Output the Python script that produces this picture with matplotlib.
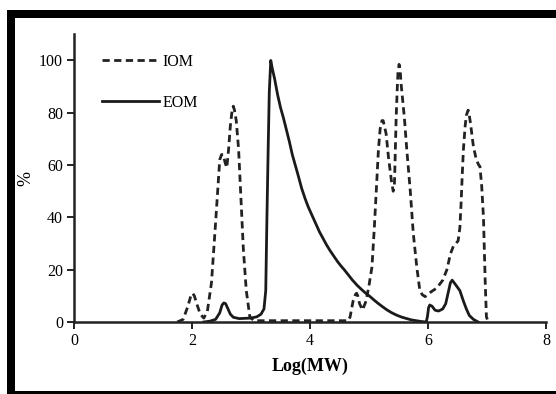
import matplotlib
matplotlib.use("Agg")
import matplotlib.pyplot as plt
from matplotlib.patches import Rectangle

# ---- data ----
iom_x = [1.75, 1.85, 1.93, 1.98, 2.01, 2.04, 2.08, 2.14, 2.20, 2.26, 2.33, 2.40, 2.47,
         2.50, 2.53, 2.56, 2.59, 2.62, 2.65, 2.68, 2.70, 2.72, 2.75, 2.79, 2.83, 2.87,
         2.92, 2.98, 3.05, 4.65, 4.68, 4.73, 4.77, 4.79, 4.81, 4.84, 4.89, 4.95, 5.00,
         5.05, 5.09, 5.13, 5.16, 5.19, 5.22, 5.24, 5.27, 5.29, 5.33, 5.38, 5.41, 5.43,
         5.44, 5.46, 5.48, 5.49, 5.51, 5.53, 5.54, 5.57, 5.60, 5.64, 5.70, 5.75, 5.81,
         5.86, 5.90, 5.95, 6.00, 6.05, 6.15, 6.25, 6.32, 6.38, 6.43, 6.47, 6.51, 6.54,
         6.56, 6.58, 6.60, 6.63, 6.65, 6.68, 6.70, 6.72, 6.77, 6.82, 6.86, 6.88, 6.91,
         6.94, 6.97, 6.99, 7.02]
iom_y = [0, 1, 6, 10, 11, 10, 7, 3, 1.5, 4, 15, 38, 62,
         64, 64, 61, 59, 66, 75, 81, 82.5, 81, 77, 66, 47, 28,
         12, 2, 0.5, 0.5, 2, 8, 10.5, 11, 10, 7, 4.6, 8, 14,
         21, 36, 53, 66, 74, 77, 77, 74, 72, 63, 54, 50, 52,
         60, 78, 90, 95, 98.5, 96, 92, 85, 78, 66, 50, 34, 21,
         12.3, 10.5, 9.7, 10.5, 11.5, 13, 16, 20, 26, 29, 30, 31, 36,
         45, 56, 66, 75, 79, 81, 79, 76, 67, 62, 60, 59.5, 52,
         40, 15, 2, 0]

eom_x = [2.20, 2.30, 2.40, 2.47, 2.51, 2.54, 2.57, 2.60, 2.65, 2.70, 2.80, 3.00, 3.10,
         3.17, 3.22, 3.25, 3.27, 3.29, 3.31, 3.335, 3.36, 3.40, 3.45, 3.50, 3.55, 3.60,
         3.65, 3.70, 3.75, 3.80, 3.86, 3.92, 3.97, 4.03, 4.10, 4.16, 4.22, 4.28, 4.34,
         4.40, 4.47, 4.53, 4.58, 4.65, 4.72, 4.80, 4.88, 4.95, 5.02, 5.08, 5.15, 5.22,
         5.30, 5.38, 5.46, 5.55, 5.64, 5.72, 5.80, 5.88, 5.97, 5.99, 6.01, 6.03, 6.07,
         6.12, 6.18, 6.25, 6.30, 6.34, 6.38, 6.41, 6.46, 6.54, 6.60, 6.65, 6.70, 6.77,
         6.85]
eom_y = [0, 0.3, 1, 3.5, 6.5, 7.3, 7, 5.5, 3, 1.8, 1.3, 1.5, 2,
         3, 5, 12, 40, 65, 88, 100, 97, 93, 87, 82, 78, 73.5,
         69, 64, 60, 56, 51, 47, 44, 41, 37.5, 34.5, 32, 29.5, 27.3,
         25.3, 23, 21.3, 20, 18, 16, 14, 12.3, 10.9, 9.7, 8.5, 7.2, 6.0,
         4.7, 3.6, 2.7, 1.9, 1.3, 0.8, 0.5, 0.2, 0, 2, 5.5, 6.5, 6,
         4.5, 4.2, 5, 7, 11, 15, 16, 14.5, 12, 8, 5, 2.5, 1,
         0]

x_ticks = [0, 2, 4, 6, 8]
y_ticks = [0, 20, 40, 60, 80, 100]
series_labels = ["IOM", "EOM"]

# ---- figure ----
W, H = 556, 394
fig = plt.figure(figsize=(W / 100, H / 100), dpi=100)
fig.patch.set_facecolor("white")

def px_rect(x0, y0, x1, y1):
    return Rectangle((x0 / W, 1 - y1 / H), (x1 - x0) / W, (y1 - y0) / H,
                     transform=fig.transFigure, facecolor="black",
                     edgecolor="none", zorder=0)

fig.patches.extend([
    px_rect(7, 10, W, 18),     # top band
    px_rect(7, 10, 15, H),     # left band
    px_rect(7, 391, W, H),     # bottom band
])

left, right = 74 / W, 546 / W
bottom = (H - 322) / H
top = (H - 34.3) / H
ax = fig.add_axes([left, bottom, right - left, top - bottom])
ax.set_facecolor("none")

serif = "Liberation Serif"
lw = 2.0
ax.plot(iom_x, iom_y, color="#222222", lw=lw, dashes=(2.6, 1.6),
        solid_joinstyle="round", dash_joinstyle="round", label=series_labels[0])
ax.plot(eom_x, eom_y, color="#1a1a1a", lw=lw, solid_joinstyle="round",
        label=series_labels[1])

ax.set_xlim(0, 8)
ax.set_ylim(0, 110)
ax.set_xticks(x_ticks)
ax.set_yticks(y_ticks)
ax.set_xticklabels([str(v) for v in x_ticks], fontfamily=serif, fontsize=11.5)
ax.set_yticklabels([str(v) for v in y_ticks], fontfamily=serif, fontsize=11.5)
ax.tick_params(direction="out", length=5, width=1.4, color="#222222", pad=3)

for s in ["top", "right"]:
    ax.spines[s].set_visible(False)
for s in ["left", "bottom"]:
    ax.spines[s].set_linewidth(1.8)
    ax.spines[s].set_color("#222222")

ax.set_xlabel("Log(MW)", fontfamily=serif, fontsize=13, fontweight="bold", labelpad=6)
ax.set_ylabel("%", fontfamily=serif, fontsize=13, labelpad=3)

leg = ax.legend(loc="upper left", bbox_to_anchor=(0.035, 0.972), frameon=False,
                handlelength=3.6, handletextpad=0.2, labelspacing=1.58,
                prop={"family": serif, "size": 11.5}, borderaxespad=0.3)

fig.savefig("out.png", dpi=100)
